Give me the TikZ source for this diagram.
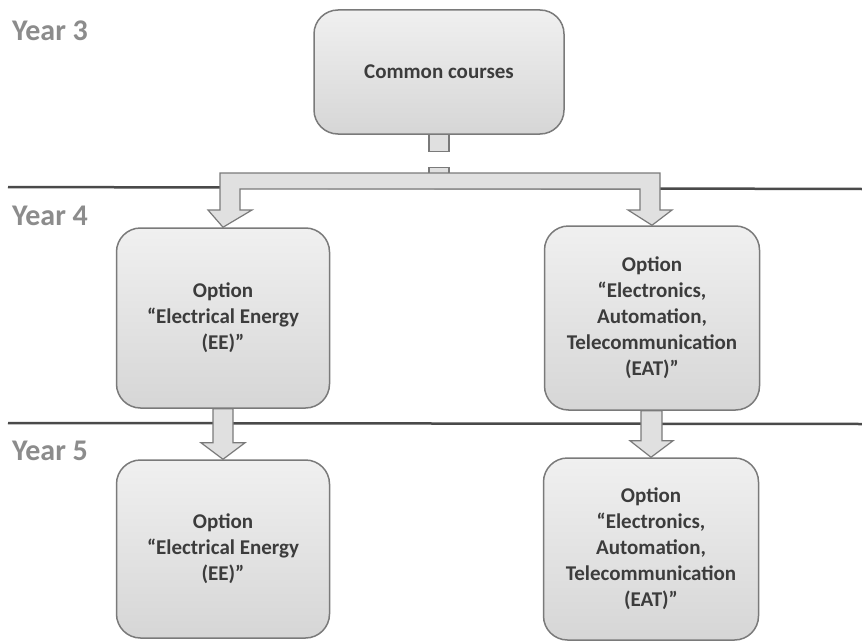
\documentclass[tikz,border=0pt]{standalone}
\usepackage{fontspec}
\setmainfont{Carlito}
\usetikzlibrary{calc}
\definecolor{yeargray}{HTML}{8C8C8C}
\definecolor{txtgray}{HTML}{3C3C3C}
\definecolor{edgegray}{HTML}{7A7A7A}
\definecolor{linegray}{HTML}{4A4A4A}
\definecolor{boxtop}{HTML}{F0F0F0}
\definecolor{boxbot}{HTML}{D6D6D6}
\definecolor{arrowfill}{HTML}{E0E0E0}
\tikzset{
  yearlabel/.style={font=\bfseries\fontsize{30}{34}\selectfont, text=yeargray, anchor=west, inner sep=0pt},
  optbox/.style={draw=edgegray, line width=1.5pt, rounded corners=24pt, top color=boxtop, bottom color=boxbot,
    align=center, text=txtgray, font=\bfseries\fontsize{21}{26}\selectfont, inner sep=0pt},
  sepline/.style={draw=linegray, line width=2.5pt},
  blockarrow/.style={draw=edgegray, line width=1.2pt, fill=arrowfill, line join=miter},
}
\begin{document}
\begin{tikzpicture}[x=1pt,y=-1pt]
\useasboundingbox[fill=white] (0,0) rectangle (862,642);
% separator lines
\coordinate (l1a) at (8,187); \coordinate (l1b) at (862,189);
\coordinate (l2a) at (8,423); \coordinate (l2b) at (862,424);
\draw[sepline] (l1a) -- (l1b);
\draw[sepline] (l2a) -- (l2b);
% year labels
\node[yearlabel] (y3) at (12,31) {Year 3};
\node[yearlabel] (y4) at (12,216) {Year 4};
\node[yearlabel] (y5) at (12,451) {Year 5};
% boxes
\node[optbox, minimum width=250pt, minimum height=124pt] (cc) at (439,72) {Common courses};
\node[optbox, minimum width=213pt, minimum height=180pt] (ee4) at (223,318) {Option\\``Electrical Energy\\(EE)''};
\node[optbox, minimum width=215pt, minimum height=184pt] (eat4) at (652,318) {Option\\``Electronics,\\Automation,\\Telecommunication\\(EAT)''};
\node[optbox, minimum width=213pt, minimum height=178pt] (ee5) at (223,549) {Option\\``Electrical Energy\\(EE)''};
\node[optbox, minimum width=215pt, minimum height=182pt] (eat5) at (651,549) {Option\\``Electronics,\\Automation,\\Telecommunication\\(EAT)''};
% stub below common courses
\draw[blockarrow] ($(cc.south)+(-10,0)$) rectangle ($(cc.south)+(10,17)$);
\draw[blockarrow] ($(cc.south)+(-10,33)$) rectangle ($(cc.south)+(10,39)$);
% branching connector
\draw[blockarrow] (220,173) -- (660,173) -- (660,210) -- (672,210) -- (eat4.north) -- (628,210) -- (640,210)
  -- (640,189) -- (240,189) -- (240,210) -- (252,210) -- (ee4.north) -- (208,210) -- (220,210) -- cycle;
% year 4 to year 5 arrows
\draw[blockarrow] ($(ee4.south)+(-10,0)$) -- ($(ee4.south)+(10,0)$) -- ($(ee4.south)+(10,34)$) -- ($(ee4.south)+(22,34)$)
  -- (ee5.north) -- ($(ee4.south)+(-22,34)$) -- ($(ee4.south)+(-10,34)$) -- cycle;
\draw[blockarrow] ($(eat4.south)+(-11,0)$) -- ($(eat4.south)+(10,0)$) -- ($(eat4.south)+(10,30)$) -- ($(eat4.south)+(21,30)$)
  -- (eat5.north) -- ($(eat4.south)+(-22,30)$) -- ($(eat4.south)+(-11,30)$) -- cycle;
\end{tikzpicture}
\end{document}
